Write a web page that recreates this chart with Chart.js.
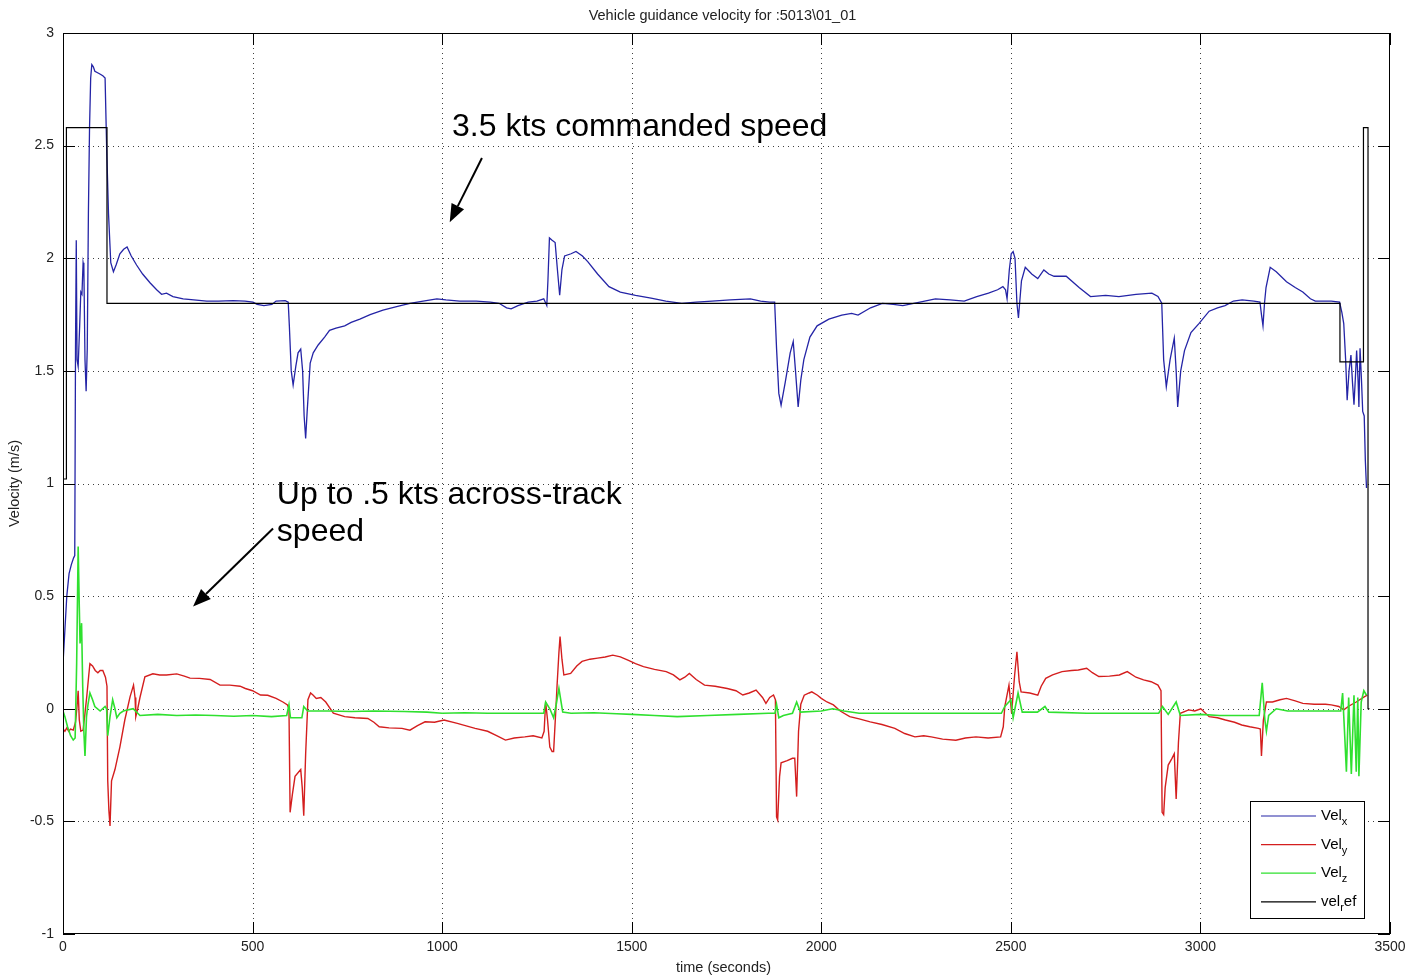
<!DOCTYPE html>
<html>
<head>
<meta charset="utf-8">
<script src="https://cdn.jsdelivr.net/npm/chart.js@4.4.1/dist/chart.umd.min.js"></script>
<style>
  html, body { margin: 0; padding: 0; background: #fff; }
  #wrap { width: 1407px; height: 976px; }
</style>
</head>
<body>
<div id="wrap"><canvas id="c" width="1407" height="976"></canvas></div>
<script>
// ---------------- DATA ----------------
const chartTitle = "Vehicle guidance velocity for :5013\\01_01";
const xAxisTitle = "time (seconds)";
const yAxisTitle = "Velocity (m/s)";
const xTickValues = [0, 500, 1000, 1500, 2000, 2500, 3000, 3500];
const yTickValues = [-1, -0.5, 0, 0.5, 1, 1.5, 2, 2.5, 3];
const seriesNames = ["Vel_x", "Vel_y", "Vel_z", "vel_ref"];

const velXTime = [0,5,10,16,22,28,31,33,35,37,40,44,47,50,53,55,58,61,64,67,70,73,76,80,84,95,105,111,115,120,126,133,140,150,160,169,180,194,210,230,247,260,273,290,317,345,379,410,449,480,501,512,530,551,562,586,594,597,602,607,614,620,627,632,636,640,644,652,660,673,690,703,720,743,760,783,810,844,880,915,950,986,1010,1046,1090,1127,1150,1170,1182,1200,1227,1250,1268,1276,1279,1283,1290,1298,1304,1310,1316,1323,1340,1353,1370,1384,1410,1440,1470,1510,1551,1590,1632,1670,1712,1760,1813,1840,1864,1877,1882,1888,1894,1905,1918,1926,1932,1939,1946,1954,1970,1989,2020,2054,2080,2097,2130,2161,2190,2215,2260,2301,2340,2377,2410,2441,2465,2479,2486,2490,2496,2501,2506,2511,2516,2520,2528,2538,2555,2571,2587,2600,2614,2646,2680,2710,2750,2785,2830,2872,2888,2898,2903,2910,2920,2931,2936,2940,2948,2958,2975,2996,3023,3045,3065,3087,3110,3141,3157,3161,3165,3169,3173,3184,3200,3227,3250,3270,3290,3303,3325,3345,3367,3373,3378,3383,3387,3392,3397,3401,3405,3409,3412,3416,3418,3421,3425,3428,3432,3435,3438];
const velXValue = [0.20,0.35,0.50,0.60,0.64,0.67,0.68,1.60,2.08,1.55,1.52,1.70,1.85,1.84,1.98,1.96,1.55,1.41,1.60,2.20,2.58,2.80,2.86,2.85,2.83,2.82,2.81,2.80,2.50,2.20,1.98,1.94,1.97,2.02,2.04,2.05,2.01,1.97,1.93,1.89,1.86,1.84,1.845,1.83,1.82,1.815,1.81,1.81,1.812,1.81,1.805,1.795,1.79,1.795,1.81,1.812,1.805,1.70,1.50,1.437,1.52,1.58,1.597,1.50,1.30,1.20,1.32,1.535,1.58,1.615,1.65,1.68,1.69,1.70,1.715,1.73,1.75,1.77,1.785,1.80,1.81,1.82,1.815,1.81,1.81,1.805,1.80,1.78,1.775,1.79,1.805,1.81,1.82,1.79,1.90,2.09,2.08,2.07,1.95,1.836,1.95,2.01,2.02,2.03,2.01,1.985,1.93,1.874,1.85,1.835,1.823,1.81,1.80,1.805,1.81,1.815,1.82,1.81,1.805,1.805,1.60,1.40,1.348,1.45,1.58,1.63,1.50,1.34,1.46,1.55,1.65,1.70,1.73,1.748,1.755,1.748,1.78,1.80,1.795,1.79,1.805,1.82,1.815,1.81,1.83,1.845,1.86,1.874,1.86,1.82,1.95,2.02,2.03,2.00,1.80,1.735,1.90,1.96,1.93,1.91,1.948,1.93,1.92,1.92,1.87,1.83,1.835,1.83,1.84,1.845,1.83,1.80,1.55,1.43,1.55,1.645,1.50,1.34,1.50,1.59,1.67,1.71,1.765,1.78,1.79,1.81,1.815,1.81,1.805,1.75,1.70,1.80,1.87,1.96,1.94,1.896,1.87,1.85,1.82,1.81,1.81,1.81,1.805,1.76,1.71,1.55,1.37,1.50,1.57,1.45,1.35,1.48,1.59,1.45,1.34,1.60,1.45,1.32,1.30,1.10,0.98];

const velYTime = [0,5,10,15,20,27,33,37,40,43,47,53,58,63,68,71,78,85,92,98,105,112,116,118,121,124,128,137,150,163,177,186,190,192,197,203,216,237,255,273,300,320,335,360,388,414,440,467,481,500,521,540,562,580,592,596,599,605,612,627,631,635,640,646,653,660,668,680,693,713,743,770,804,820,834,860,894,915,935,955,980,1005,1040,1087,1120,1145,1167,1190,1218,1240,1263,1269,1273,1278,1284,1290,1294,1300,1303,1308,1311,1316,1321,1339,1355,1369,1390,1410,1430,1450,1470,1490,1510,1531,1560,1591,1610,1627,1640,1652,1670,1692,1720,1752,1775,1793,1810,1828,1845,1854,1864,1874,1879,1882,1885,1890,1894,1910,1924,1930,1935,1940,1946,1955,1968,1975,1990,2000,2015,2032,2050,2075,2100,2129,2160,2194,2220,2247,2270,2290,2320,2355,2380,2408,2440,2473,2480,2484,2495,2502,2510,2516,2522,2527,2550,2571,2580,2592,2610,2635,2660,2678,2700,2715,2732,2760,2786,2807,2830,2850,2870,2888,2896,2899,2903,2907,2915,2925,2931,2936,2942,2947,2969,2985,3001,3023,3045,3066,3090,3109,3130,3153,3158,3161,3166,3174,3190,3210,3227,3250,3270,3300,3330,3345,3365,3378,3390,3400,3411,3420,3432,3440];
const velYValue = [-0.09,-0.10,-0.085,-0.10,-0.09,-0.095,-0.06,0.01,0.08,-0.05,-0.10,-0.095,-0.02,0.06,0.15,0.20,0.19,0.17,0.16,0.17,0.17,0.14,0.10,-0.32,-0.45,-0.52,-0.32,-0.27,-0.17,-0.05,0.054,0.105,0.05,-0.035,0.00,0.05,0.142,0.155,0.15,0.15,0.155,0.145,0.136,0.135,0.13,0.105,0.105,0.10,0.09,0.08,0.061,0.06,0.046,0.03,0.017,0.00,-0.46,-0.38,-0.30,-0.27,-0.35,-0.475,-0.20,0.04,0.07,0.06,0.046,0.05,0.03,-0.02,-0.035,-0.04,-0.043,-0.06,-0.08,-0.085,-0.087,-0.095,-0.075,-0.058,-0.06,-0.05,-0.065,-0.087,-0.10,-0.12,-0.139,-0.13,-0.125,-0.12,-0.13,-0.10,0.03,-0.05,-0.17,-0.19,-0.19,0.00,0.10,0.25,0.32,0.22,0.15,0.157,0.19,0.21,0.22,0.225,0.23,0.238,0.23,0.216,0.20,0.187,0.175,0.165,0.15,0.128,0.14,0.157,0.13,0.105,0.10,0.09,0.08,0.061,0.07,0.083,0.05,0.024,0.05,0.061,0.04,-0.48,-0.494,-0.30,-0.24,-0.23,-0.22,-0.22,-0.39,-0.10,0.02,0.06,0.07,0.075,0.06,0.046,0.03,0.017,-0.01,-0.035,-0.045,-0.058,-0.07,-0.087,-0.11,-0.125,-0.12,-0.125,-0.135,-0.14,-0.13,-0.125,-0.13,-0.125,-0.08,0.01,0.105,-0.02,0.15,0.253,0.12,0.075,0.07,0.06,0.10,0.135,0.15,0.165,0.17,0.172,0.18,0.16,0.143,0.145,0.15,0.165,0.14,0.128,0.12,0.105,0.08,-0.46,-0.47,-0.35,-0.25,-0.22,-0.20,-0.40,-0.15,-0.02,-0.005,-0.01,0.0,-0.035,-0.04,-0.05,-0.06,-0.072,-0.08,-0.087,-0.09,-0.21,-0.05,0.03,0.03,0.04,0.046,0.035,0.024,0.02,0.02,0.017,0.01,-0.005,0.01,0.02,0.03,0.04,0.053,0.06];

const velZTime = [0,5,12,20,27,32,36,40,43,45,49,52,55,58,62,66,71,78,84,98,111,115,118,124,131,137,142,150,159,185,203,250,300,350,400,450,500,550,590,596,600,620,630,635,645,700,760,820,900,960,1000,1060,1120,1180,1250,1268,1273,1284,1294,1301,1308,1318,1340,1400,1460,1500,1560,1620,1700,1780,1860,1878,1882,1888,1900,1924,1935,1945,2000,2030,2060,2100,2200,2300,2400,2475,2484,2500,2506,2519,2530,2570,2590,2600,2700,2800,2890,2900,2915,2936,2947,3000,3050,3100,3155,3163,3170,3174,3180,3200,3230,3300,3370,3375,3380,3385,3391,3398,3405,3411,3415,3418,3424,3431,3438];
const velZValue = [-0.01,-0.035,-0.08,-0.12,-0.139,-0.13,0.20,0.72,0.45,0.29,0.38,0.10,-0.10,-0.21,-0.035,0.02,0.07,0.04,0.01,-0.01,0.01,0.00,-0.12,-0.035,0.04,0.00,-0.04,-0.02,-0.01,0.00,-0.03,-0.025,-0.03,-0.028,-0.03,-0.033,-0.03,-0.035,-0.03,0.017,-0.04,-0.04,-0.04,0.01,-0.01,-0.01,-0.012,-0.01,-0.012,-0.015,-0.02,-0.018,-0.02,-0.02,-0.02,-0.02,0.03,0.00,-0.04,0.02,0.09,-0.015,-0.02,-0.018,-0.022,-0.025,-0.03,-0.035,-0.03,-0.025,-0.02,-0.02,0.02,-0.04,-0.03,-0.02,0.03,-0.015,-0.01,0.00,-0.01,-0.02,-0.02,-0.02,-0.02,-0.02,0.01,0.04,-0.04,0.07,-0.015,-0.015,0.01,-0.015,-0.02,-0.02,-0.02,0.01,-0.025,0.03,-0.03,-0.025,-0.03,-0.03,-0.03,0.115,-0.05,-0.10,-0.03,0.00,-0.01,-0.01,-0.01,0.07,-0.10,-0.28,0.05,-0.29,0.06,-0.28,0.05,-0.30,0.03,0.08,0.06];

const velRefTime = [0,9,9,116,116,3368,3368,3430,3430,3442,3442,3446];
const velRefValue = [1.02,1.02,2.58,2.58,1.80,1.80,1.54,1.54,2.58,2.58,0,0];

// annotation texts (anchored in data coordinates)
const annotationTexts = ["3.5 kts commanded speed", "Up to .5 kts across-track", "speed"];
const annotationAnchors = [[1026, 2.58], [564, 0.949], [564, 0.785]];
const arrowTails = [[1105, 2.445], [554, 0.80]];
const arrowTips = [[1020, 2.16], [343, 0.454]];

// ---------------- STYLE ----------------
const seriesColors = ["#2424a6", "#d41e1e", "#2fe02f", "#000000"];
const seriesWidths = [1.3, 1.4, 1.6, 1.2];
const FONT = "'Liberation Sans', Arial, Helvetica, sans-serif";

function toPoints(ts, vs) { return ts.map((t, i) => ({x: t, y: vs[i]})); }

const datasets = [
  {label: seriesNames[0], data: toPoints(velXTime, velXValue), borderColor: seriesColors[0], borderWidth: seriesWidths[0], order: 4},
  {label: seriesNames[1], data: toPoints(velYTime, velYValue), borderColor: seriesColors[1], borderWidth: seriesWidths[1], order: 3},
  {label: seriesNames[2], data: toPoints(velZTime, velZValue), borderColor: seriesColors[2], borderWidth: seriesWidths[2], order: 2},
  {label: seriesNames[3], data: toPoints(velRefTime, velRefValue), borderColor: seriesColors[3], borderWidth: seriesWidths[3], order: 1}
].map(d => Object.assign(d, {pointRadius: 0, tension: 0, fill: false}));

const matlabPlugin = {
  id: 'matlab',
  beforeDatasetsDraw(chart) {
    const {ctx, chartArea: a, scales: {x, y}} = chart;
    ctx.save();
    ctx.strokeStyle = 'rgba(0,0,0,0.75)';
    ctx.lineWidth = 1;
    ctx.setLineDash([1, 4]);
    xTickValues.forEach(v => {
      const px = Math.round(x.getPixelForValue(v)) + 0.5;
      if (px <= a.left + 1 || px >= a.right - 1) return;
      ctx.beginPath(); ctx.moveTo(px, a.top); ctx.lineTo(px, a.bottom); ctx.stroke();
    });
    yTickValues.forEach(v => {
      const py = Math.round(y.getPixelForValue(v)) + 0.5;
      if (py <= a.top + 1 || py >= a.bottom - 1) return;
      ctx.beginPath(); ctx.moveTo(a.left, py); ctx.lineTo(a.right, py); ctx.stroke();
    });
    ctx.restore();
  },
  afterDatasetsDraw(chart) {
    const {ctx, chartArea: a, scales: {x, y}} = chart;
    ctx.save();
    // frame
    ctx.setLineDash([]);
    ctx.strokeStyle = '#000';
    ctx.lineWidth = 1;
    ctx.strokeRect(a.left + 0.5, a.top + 0.5, a.right - a.left - 1, a.bottom - a.top - 1);
    // inner tick marks
    const tl = 12;
    xTickValues.forEach(v => {
      const px = Math.round(x.getPixelForValue(v)) + 0.5;
      ctx.beginPath();
      ctx.moveTo(px, a.bottom); ctx.lineTo(px, a.bottom - tl);
      ctx.moveTo(px, a.top); ctx.lineTo(px, a.top + tl);
      ctx.stroke();
    });
    yTickValues.forEach(v => {
      const py = Math.round(y.getPixelForValue(v)) + 0.5;
      ctx.beginPath();
      ctx.moveTo(a.left, py); ctx.lineTo(a.left + tl, py);
      ctx.moveTo(a.right, py); ctx.lineTo(a.right - tl, py);
      ctx.stroke();
    });

    // annotations
    ctx.fillStyle = '#000';
    ctx.font = '32px ' + FONT;
    ctx.textBaseline = 'middle';
    ctx.textAlign = 'left';
    annotationTexts.forEach((txt, i) => {
      ctx.fillText(txt, x.getPixelForValue(annotationAnchors[i][0]), y.getPixelForValue(annotationAnchors[i][1]));
    });
    arrowTails.forEach((tail, i) => {
      const x0 = x.getPixelForValue(tail[0]), y0 = y.getPixelForValue(tail[1]);
      const x1 = x.getPixelForValue(arrowTips[i][0]), y1 = y.getPixelForValue(arrowTips[i][1]);
      const ang = Math.atan2(y1 - y0, x1 - x0);
      const hl = 18, hw = 7;
      const bx = x1 - hl * Math.cos(ang), by = y1 - hl * Math.sin(ang);
      ctx.strokeStyle = '#000'; ctx.lineWidth = 2;
      ctx.beginPath(); ctx.moveTo(x0, y0); ctx.lineTo(bx, by); ctx.stroke();
      ctx.beginPath();
      ctx.moveTo(x1, y1);
      ctx.lineTo(bx + hw * Math.sin(ang), by - hw * Math.cos(ang));
      ctx.lineTo(bx - hw * Math.sin(ang), by + hw * Math.cos(ang));
      ctx.closePath(); ctx.fill();
    });

    // legend
    const lx = a.right - 140, ly = a.bottom - 133, lw = 114, lh = 117;
    ctx.fillStyle = '#fff';
    ctx.fillRect(lx, ly, lw, lh);
    ctx.strokeStyle = '#000'; ctx.lineWidth = 1;
    ctx.strokeRect(lx + 0.5, ly + 0.5, lw, lh);
    const subs = [["Vel", "x", ""], ["Vel", "y", ""], ["Vel", "z", ""], ["vel", "r", "ef"]];
    subs.forEach((s, i) => {
      const ry = ly + 15 + i * 28.6;
      ctx.strokeStyle = seriesColors[i]; ctx.lineWidth = 1.2;
      ctx.beginPath(); ctx.moveTo(lx + 11, ry); ctx.lineTo(lx + 66, ry); ctx.stroke();
      ctx.fillStyle = '#000';
      ctx.textBaseline = 'alphabetic';
      ctx.font = '15px ' + FONT;
      let tx = lx + 71;
      ctx.fillText(s[0], tx, ry + 4);
      tx += ctx.measureText(s[0]).width;
      ctx.font = '11px ' + FONT;
      ctx.fillText(s[1], tx, ry + 9);
      tx += ctx.measureText(s[1]).width;
      if (s[2]) { ctx.font = '15px ' + FONT; ctx.fillText(s[2], tx, ry + 4); }
    });
    ctx.restore();
  },
  afterDraw(chart) {
    const {ctx, chartArea: a} = chart;
    ctx.save();
    ctx.fillStyle = '#222';
    ctx.font = '14.5px ' + FONT;
    ctx.textAlign = 'center';
    ctx.textBaseline = 'middle';
    ctx.fillText(chartTitle, (a.left + a.right) / 2 - 4, 16);
    ctx.fillText(xAxisTitle, (a.left + a.right) / 2 - 3, 968);
    ctx.translate(15, (a.top + a.bottom) / 2);
    ctx.rotate(-Math.PI / 2);
    ctx.fillText(yAxisTitle, 0, 0);
    ctx.restore();
  }
};

new Chart(document.getElementById('c'), {
  type: 'line',
  data: {datasets},
  options: {
    responsive: false,
    animation: false,
    devicePixelRatio: 1,
    layout: {padding: {top: 33, right: 17, left: 0, bottom: 0}},
    plugins: {legend: {display: false}, tooltip: {enabled: false}, title: {display: false}},
    scales: {
      x: {
        type: 'linear', min: 0, max: 3500,
        afterFit(s) { s.height = 42; s.paddingLeft = 0; s.paddingRight = 0; },
        afterBuildTicks(s) { s.ticks = xTickValues.map(v => ({value: v})); },
        grid: {display: false, drawTicks: false},
        border: {display: false},
        ticks: {autoSkip: false, maxRotation: 0, padding: 5, color: '#222', font: {family: FONT, size: 14},
                callback: v => String(v)}
      },
      y: {
        type: 'linear', min: -1, max: 3,
        afterFit(s) { s.width = 63; s.paddingTop = 0; s.paddingBottom = 0; },
        afterBuildTicks(s) { s.ticks = yTickValues.map(v => ({value: v})); },
        grid: {display: false, drawTicks: false},
        border: {display: false},
        ticks: {autoSkip: false, padding: 9, color: '#222', font: {family: FONT, size: 14},
                callback: v => String(v)}
      }
    }
  },
  plugins: [matlabPlugin]
});
</script>
</body>
</html>
